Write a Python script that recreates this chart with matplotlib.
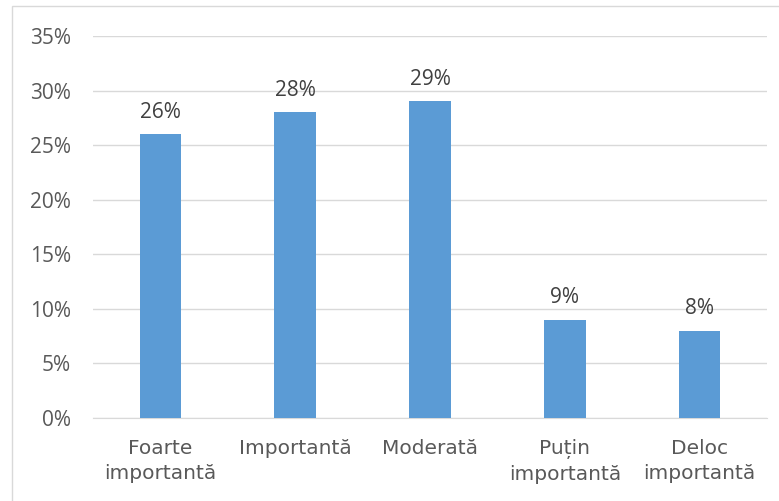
import matplotlib.pyplot as plt
from matplotlib.patches import Rectangle

categories = ["Foarte\nimportantă", "Importantă", "Moderată", "Puțin\nimportantă", "Deloc\nimportantă"]
values = [26, 28, 29, 9, 8]
yticks = [0, 5, 10, 15, 20, 25, 30, 35]

plt.rcParams["font.family"] = ["Open Sans", "DejaVu Sans"]
text_color = "#595959"

W, H = 779, 501
fig = plt.figure(figsize=(W / 100, H / 100), dpi=100)
ax = fig.add_axes([93 / W, 1 - 418 / H, (767 - 93) / W, (418 - 36) / H])

x = list(range(len(categories)))
ax.bar(x, values, width=0.31, color="#5B9BD5", zorder=3)
for xi, v in zip(x, values):
    ax.text(xi, v + 1.5, f"{v}%", ha="center", va="baseline", fontsize=15, color="#404040")

ax.set_xlim(-0.5, len(categories) - 0.5)
ax.set_ylim(0, 35)
ax.set_yticks(yticks)
ax.set_yticklabels([f"{t}%" for t in yticks], fontsize=15, color=text_color)
ax.set_xticks(x)
ax.set_xticklabels(categories, fontsize=14.5, color=text_color, linespacing=1.4,
                   family=["DejaVu Sans"])
ax.grid(axis="y", color="#D9D9D9", linewidth=1, zorder=0)
ax.tick_params(length=0)
ax.tick_params(axis="y", pad=16)
ax.tick_params(axis="x", pad=15)
for side in ["top", "right", "left"]:
    ax.spines[side].set_visible(False)
ax.spines["bottom"].set_color("#D9D9D9")

fig.patches.append(Rectangle((12 / W, -0.1), 1.0, 1 - 6 / H + 0.1, transform=fig.transFigure,
                             fill=False, edgecolor="#D9D9D9", linewidth=1))

fig.savefig("out.png", dpi=100)
